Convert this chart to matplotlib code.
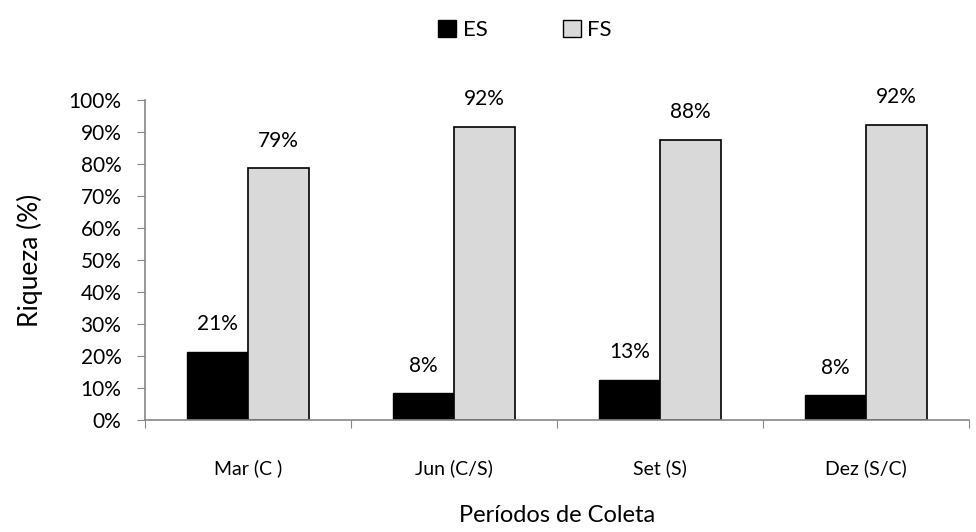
import numpy as np
import matplotlib
matplotlib.use('Agg')
from matplotlib import pyplot as plt
from matplotlib.patches import Patch

plt.rcParams['font.family'] = ['Lato', 'DejaVu Sans']

periods = ['Mar (C )', 'Jun (C/S)', 'Set (S)', 'Dez (S/C)']
es = [21.4, 8.3, 12.6, 7.7]
fs = [78.6, 91.7, 87.5, 92.3]

grey = '#868686'

fig = plt.figure(figsize=(9.76, 5.32), dpi=100)
ax = fig.add_axes([0.1486, 0.2105, 0.844, 0.6015])

x = np.arange(len(periods))
w = 0.296
b1 = ax.bar(x - w / 2, es, w, color='black', edgecolor='black', linewidth=1)
b2 = ax.bar(x + w / 2, fs, w, color='#d9d9d9', edgecolor='black', linewidth=1.2)

for rect, v in zip(list(b1) + list(b2), es + fs):
    ax.text(rect.get_x() + rect.get_width() / 2, v + 5.5, '%d%%' % round(v),
            ha='center', va='bottom', fontsize=15)

ax.set_xlim(-0.5, len(periods) - 0.5)
ax.set_ylim(0, 100)
ax.set_yticks(np.arange(0, 101, 10))
ax.set_yticklabels(['%d%%' % t for t in range(0, 101, 10)], fontsize=15)
ax.set_xticks(np.arange(-0.5, len(periods), 1))
ax.set_xticklabels([])
ax.set_xticks(x, minor=True)
ax.set_xticklabels(periods, minor=True, fontsize=14)
ax.tick_params(axis='x', which='major', length=6, color=grey, direction='out')
ax.tick_params(axis='x', which='minor', length=0, pad=28)
ax.tick_params(axis='y', length=6, color=grey, direction='out', pad=11)

for s in ['top', 'right']:
    ax.spines[s].set_visible(False)
for s in ['left', 'bottom']:
    ax.spines[s].set_color(grey)
    ax.spines[s].set_linewidth(1.2)

ax.set_ylabel('Riqueza (%)', fontsize=19, labelpad=18)
ax.set_xlabel('Períodos de Coleta', fontsize=17, labelpad=20)

handles = [Patch(facecolor='black', edgecolor='black', label='ES'),
           Patch(facecolor='#d9d9d9', edgecolor='black', label='FS')]
fig.legend(handles=handles, loc='center', bbox_to_anchor=(0.538, 0.944), ncol=2,
           frameon=False, fontsize=16, handlelength=0.8, handleheight=0.8,
           handletextpad=0.3, columnspacing=3.4)

fig.savefig('out.png', dpi=100)
